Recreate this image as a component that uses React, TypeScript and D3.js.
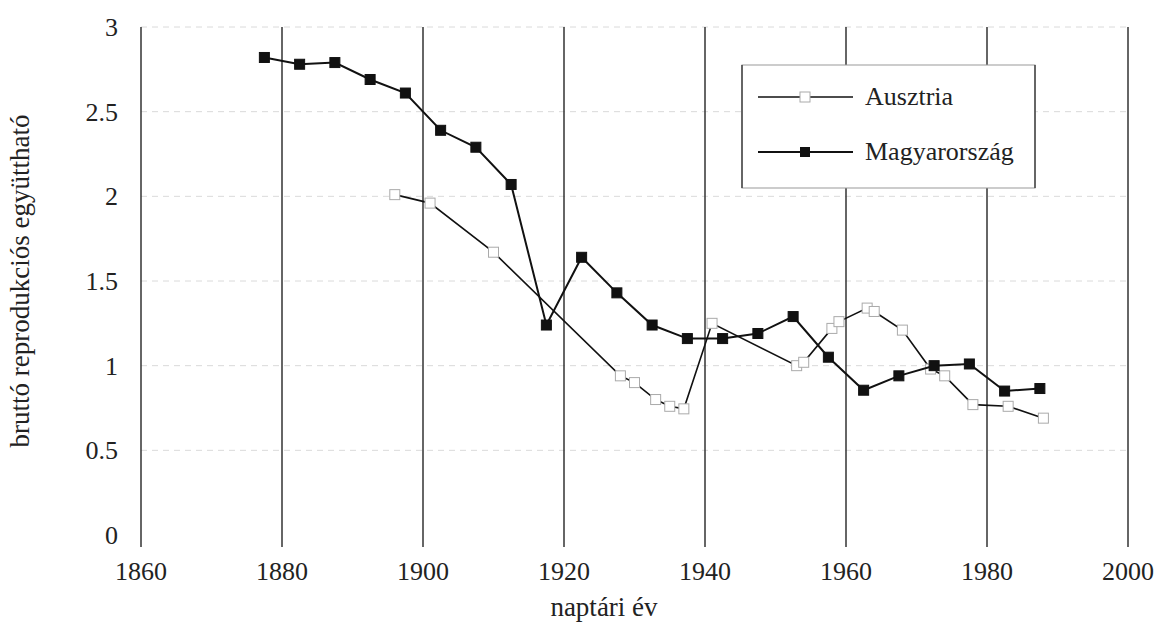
import React from "react";
import * as d3 from "d3";

const xTicks = [1860, 1880, 1900, 1920, 1940, 1960, 1980, 2000];
const yTicks = [0, 0.5, 1, 1.5, 2, 2.5, 3];

const hungaryYears = [1877.5, 1882.5, 1887.5, 1892.5, 1897.5, 1902.5, 1907.5, 1912.5, 1917.5, 1922.5, 1927.5, 1932.5, 1937.5, 1942.5, 1947.5, 1952.5, 1957.5, 1962.5, 1967.5, 1972.5, 1977.5, 1982.5, 1987.5];
const hungaryValues = [2.82, 2.78, 2.79, 2.69, 2.61, 2.39, 2.29, 2.07, 1.24, 1.64, 1.43, 1.24, 1.16, 1.16, 1.19, 1.29, 1.05, 0.855, 0.94, 1.0, 1.01, 0.85, 0.865];

const austriaYears = [1896, 1901, 1910, 1928, 1930, 1933, 1935, 1937, 1941, 1953, 1954, 1958, 1959, 1963, 1964, 1968, 1972, 1974, 1978, 1983, 1988];
const austriaValues = [2.01, 1.96, 1.67, 0.94, 0.9, 0.8, 0.76, 0.745, 1.25, 1.0, 1.02, 1.22, 1.26, 1.34, 1.32, 1.21, 0.98, 0.94, 0.77, 0.76, 0.69];

const seriesNames = ["Ausztria", "Magyarország"];
const xTitle = "naptári év";
const yTitle = "bruttó reprodukciós együttható";

export default function App() {
  const W = 1156, H = 624;
  const x = d3.scaleLinear().domain([1860, 2000]).range([141, 1128]);
  const y = d3.scaleLinear().domain([0, 3]).range([535, 27]);
  const line = d3.line<[number, number]>().x(d => x(d[0])).y(d => y(d[1]));
  const hu: [number, number][] = hungaryYears.map((yr, i) => [yr, hungaryValues[i]]);
  const at: [number, number][] = austriaYears.map((yr, i) => [yr, austriaValues[i]]);
  const tstyle: React.CSSProperties = { fontFamily: '"Liberation Serif", "DejaVu Serif", serif' };
  const ms = 10;
  const lg = { x0: 742, x1: 1035, y0: 65, y1: 188 };

  return (
    <svg width={W} height={H} style={{ position: "absolute", left: 0, top: 0, background: "#fff" }}>
      <rect x={0} y={0} width={W} height={H} fill="#fff" />
      {yTicks.filter(t => t > 0).map(t => (
        <line key={"h" + t} x1={x(1860)} x2={x(2000)} y1={y(t)} y2={y(t)} stroke="#dadada" strokeWidth={1} strokeDasharray="6,5" />
      ))}
      {xTicks.map(t => (
        <line key={"v" + t} x1={x(t)} x2={x(t)} y1={y(3)} y2={y(0) + 12} stroke="#333" strokeWidth={1.5} />
      ))}
      {yTicks.map(t => (
        <text key={"yt" + t} x={118} y={y(t)} dy="0.35em" textAnchor="end" fontSize={26} fill="#222" style={tstyle}>{String(t)}</text>
      ))}
      {xTicks.map(t => (
        <text key={"xt" + t} x={x(t)} y={580} textAnchor="middle" fontSize={26} fill="#222" style={tstyle}>{String(t)}</text>
      ))}
      <text x={604} y={616} textAnchor="middle" fontSize={27} fill="#222" style={tstyle}>{xTitle}</text>
      <text transform={`translate(29,281) rotate(-90)`} textAnchor="middle" fontSize={27} fill="#222" style={tstyle}>{yTitle}</text>

      <path d={line(at) || ""} fill="none" stroke="#111" strokeWidth={1.6} />
      {at.map((d, i) => (
        <rect key={"a" + i} x={x(d[0]) - ms / 2} y={y(d[1]) - ms / 2} width={ms} height={ms} fill="#fff" stroke="#aaa" strokeWidth={1} />
      ))}
      <path d={line(hu) || ""} fill="none" stroke="#111" strokeWidth={2} />
      {hu.map((d, i) => (
        <rect key={"m" + i} x={x(d[0]) - ms / 2} y={y(d[1]) - ms / 2} width={ms} height={ms} fill="#111" stroke="#111" strokeWidth={1} />
      ))}

      <rect x={lg.x0} y={lg.y0} width={lg.x1 - lg.x0} height={lg.y1 - lg.y0} fill="#fff" stroke="#999" strokeWidth={1} />
      <line x1={lg.x0} x2={lg.x0} y1={lg.y0} y2={lg.y1} stroke="#444" strokeWidth={1.5} />
      <line x1={lg.x1} x2={lg.x1} y1={lg.y0} y2={lg.y1} stroke="#444" strokeWidth={1.5} />
      <line x1={758} x2={853} y1={97} y2={97} stroke="#111" strokeWidth={1.6} />
      <rect x={805 - ms / 2} y={97 - ms / 2} width={ms} height={ms} fill="#fff" stroke="#aaa" strokeWidth={1} />
      <text x={865} y={105} fontSize={26} fill="#222" style={tstyle}>{seriesNames[0]}</text>
      <line x1={758} x2={853} y1={152} y2={152} stroke="#111" strokeWidth={2} />
      <rect x={805 - ms / 2} y={152 - ms / 2} width={ms} height={ms} fill="#111" />
      <text x={865} y={160} fontSize={26} fill="#222" style={tstyle}>{seriesNames[1]}</text>
    </svg>
  );
}
